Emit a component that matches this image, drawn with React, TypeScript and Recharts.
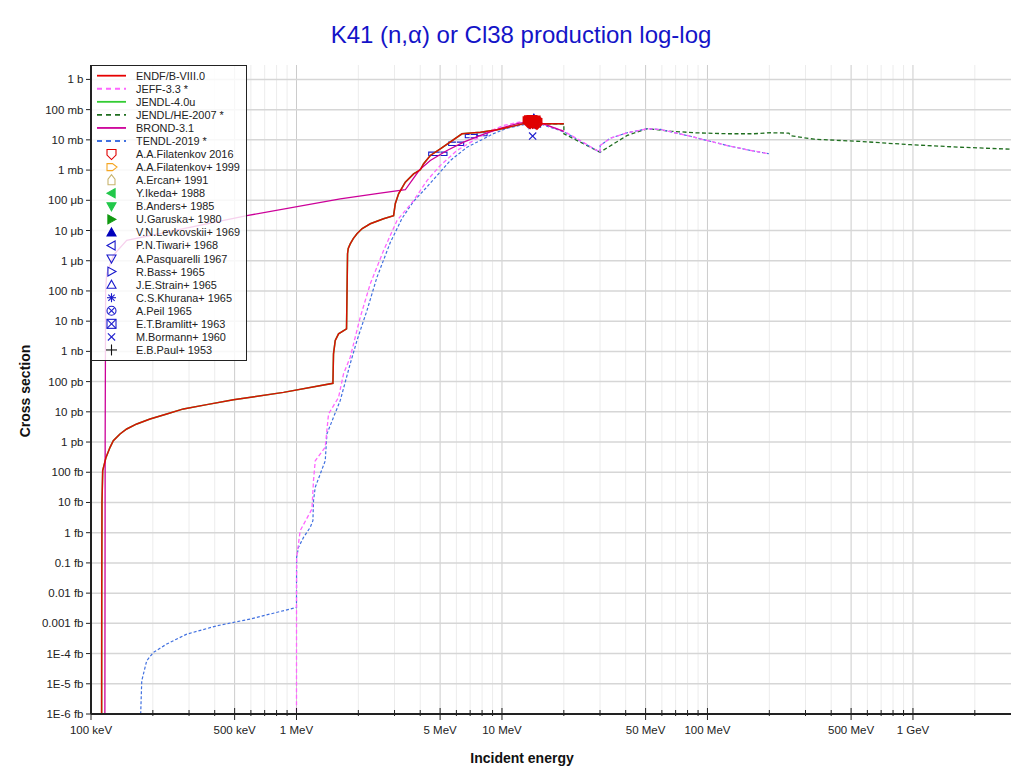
import React from "react";
import {
  ComposedChart,
  Line,
  Scatter,
  XAxis,
  YAxis,
  ReferenceLine,
  ReferenceArea,
} from "recharts";

// energies in MeV, cross sections in barns
const endfB80: [number, number][] = [
  [0.1126, 1e-22], [0.1128, 1e-17], [0.1131, 1e-14], [0.114, 1.13e-13], [0.1183, 3.1e-13],
  [0.1238, 6.7e-13], [0.1284, 1.1e-12], [0.1384, 1.85e-12], [0.1492, 2.7e-12], [0.167, 3.97e-12],
  [0.1938, 5.8e-12], [0.2337, 8.5e-12], [0.2817, 1.25e-11], [0.366, 1.73e-11], [0.4934, 2.5e-11],
  [0.8644, 4.4e-11], [1.504, 8.8e-11], [1.514, 8.3e-10], [1.544, 2.3e-9], [1.602, 3.8e-9],
  [1.752, 5.6e-9], [1.772, 1.7e-6], [1.786, 2.54e-6], [1.826, 3.6e-6], [1.889, 5.4e-6],
  [1.969, 7.8e-6], [2.089, 1.16e-5], [2.286, 1.67e-5], [2.653, 2.44e-5], [2.969, 3.1e-5],
  [3.025, 7.7e-5], [3.139, 1.64e-4], [3.385, 4.0e-4], [3.715, 7.5e-4], [4.005, 1.02e-3],
  [4.156, 1.62e-3], [4.48, 3.04e-3], [5.01, 5.07e-3], [6.39, 0.0159], [7.85, 0.018],
  [9.47, 0.0216], [11.5, 0.029], [13.3, 0.037], [14.2, 0.034], [20, 0.034],
];

const jendl40u: [number, number][] = endfB80.map(([e, s]) => [e, s]);

const jeff33: [number, number][] = [
  [1.0, 1e-22], [1.0005, 1e-17], [1.002, 1.5e-16], [1.042, 1.16e-15], [1.189, 6.1e-15],
  [1.21, 5.3e-14], [1.234, 2.4e-13], [1.38, 6.7e-13], [1.432, 8.5e-12], [1.602, 3.0e-11],
  [1.694, 1.8e-10], [1.826, 6.4e-10], [2.043, 1.35e-8], [2.286, 1.72e-7], [2.653, 2.18e-6],
  [3.084, 2.14e-5], [3.715, 9.8e-5], [4.316, 4.5e-4], [5.01, 1.42e-3], [6.04, 4.46e-3],
  [7.28, 9.55e-3], [8.5, 0.018], [10.19, 0.03], [12.76, 0.0416], [14.83, 0.0386],
  [20, 0.0195], [30, 0.0039], [30.05, 0.0065], [33.7, 0.0114], [40.7, 0.0172],
  [50.9, 0.0233], [59.2, 0.0221], [85.9, 0.0123], [99.4, 0.00955], [124.8, 0.0065],
  [156, 0.0047], [199, 0.00347],
];

const jendlHe2007: [number, number][] = [
  [13.3, 0.037], [14.2, 0.034], [20, 0.034], [20.02, 0.0159], [30, 0.0039], [40.7, 0.014],
  [50.9, 0.0233], [66, 0.0194], [86, 0.0172], [125, 0.0159], [168, 0.0159], [203, 0.0172],
  [249, 0.0167], [254, 0.0137], [330, 0.0105], [557, 0.00885], [975, 0.0069],
  [1710, 0.0057], [3000, 0.0049],
];

const brond31: [number, number][] = [
  [0.1168, 1e-22], [0.1172, 1e-12], [0.1178, 1e-7], [0.1192, 3.7e-7], [0.1284, 1.5e-6],
  [0.1492, 4.7e-6], [0.5733, 3.1e-5], [1.633, 1.12e-4], [2.557, 1.72e-4], [3.385, 2.23e-4],
  [3.972, 1.02e-3], [4.48, 2.08e-3], [5.4, 4.46e-3], [6.51, 8.4e-3], [7.85, 0.014],
  [10, 0.025], [12, 0.035], [14, 0.041], [15, 0.039], [20, 0.019],
];

const tendl2019: [number, number][] = [
  [0.1733, 1e-22], [0.1745, 1e-21], [0.1766, 1.26e-20], [0.1867, 5.8e-20], [0.2012, 1.09e-19],
  [0.2337, 2.07e-19], [0.2925, 4.4e-19], [0.4096, 8.3e-19], [0.5951, 1.39e-18], [1.0, 3.36e-18],
  [1.001, 1.5e-16], [1.023, 3.3e-16], [1.082, 7.0e-16], [1.166, 1.5e-15], [1.202, 2.5e-15],
  [1.21, 1.15e-14], [1.234, 3.2e-14], [1.38, 2.4e-13], [1.406, 1.85e-12], [1.514, 6.6e-12],
  [1.632, 2.35e-11], [1.826, 3.9e-10], [1.969, 2.28e-9], [2.202, 2.24e-8], [2.464, 2.84e-7],
  [2.86, 4e-6], [3.26, 2.5e-5], [3.7, 9e-5], [4.156, 2.1e-4], [4.83, 6.6e-4], [5.61, 2.08e-3],
  [6.76, 5.7e-3], [7.85, 9.55e-3], [9.0, 0.0155], [10.5, 0.024], [12.8, 0.032], [14.5, 0.035],
  [15.5, 0.033], [20, 0.0185], [30, 0.0039], [30.05, 0.0065], [33.7, 0.0114], [40.7, 0.0172],
  [50.9, 0.0233], [59.2, 0.0221], [85.9, 0.0123], [99.4, 0.00955], [124.8, 0.0065],
  [156, 0.0047], [199, 0.00347],
];

// EXFOR points
const filatenkov2016: [number, number][] = [
  [13.4, 0.04], [13.6, 0.043], [13.8, 0.041], [14.0, 0.044], [14.1, 0.038], [14.3, 0.04],
  [14.5, 0.042], [14.6, 0.037], [14.8, 0.035], [13.7, 0.037],
];
const filatenkov1999: [number, number][] = [[14.2, 0.039]];
const ercan1991: [number, number][] = [[14.6, 0.036]];
const ikeda1988: [number, number][] = [[14.0, 0.037]];
const anders1985: [number, number][] = [[14.5, 0.036]];
const garuska1980: [number, number][] = [[14.6, 0.038]];
const levkovskii1969: [number, number][] = [[14.3, 0.05]];
const tiwari1968: [number, number][] = [[14.8, 0.037]];
const pasquarelli1967: [number, number][] = [[14.7, 0.035]];
const bass1965: [number, number][] = [[14.1, 0.033]];
const strain1965: [number, number][] = [[14.8, 0.042]];
const khurana1965: [number, number][] = [[14.8, 0.039]];
const peil1965: [number, number][] = [[14.5, 0.034]];
const bramlitt1963: [number, number][] = [];
const bormann1960: [number, number][] = [[14.1, 0.0133]];
const paul1953: [number, number][] = [[14.1, 0.036]];

// Bramlitt boxes: [eLow, eHigh, sLow, sHigh]
const bramlittBoxes: [number, number, number, number][] = [
  [4.4, 5.4, 0.00304, 0.00392],
  [5.5, 6.51, 0.0065, 0.0084],
  [6.63, 7.56, 0.01174, 0.0151],
  [7.56, 8.46, 0.0137, 0.0172],
  [13.5, 15.2, 0.028, 0.033],
];

const xLabelValues = [0.1, 0.5, 1, 5, 10, 50, 100, 500, 1000];
const xLabels = ["100 keV", "500 keV", "1 MeV", "5 MeV", "10 MeV", "50 MeV", "100 MeV", "500 MeV", "1 GeV"];
const xMinorValues = [
  0.2, 0.3, 0.4, 0.6, 0.7, 0.8, 0.9, 2, 3, 4, 6, 7, 8, 9, 20, 30, 40, 60, 70, 80, 90,
  200, 300, 400, 600, 700, 800, 900, 2000,
];
const yTickValues = [
  1e-21, 1e-20, 1e-19, 1e-18, 1e-17, 1e-16, 1e-15, 1e-14, 1e-13, 1e-12, 1e-11,
  1e-10, 1e-9, 1e-8, 1e-7, 1e-6, 1e-5, 1e-4, 1e-3, 1e-2, 1e-1, 1,
];
const yLabels = [
  "1E-6 fb", "1E-5 fb", "1E-4 fb", "0.001 fb", "0.01 fb", "0.1 fb", "1 fb", "10 fb", "100 fb",
  "1 pb", "10 pb", "100 pb", "1 nb", "10 nb", "100 nb", "1 μb", "10 μb", "100 μb",
  "1 mb", "10 mb", "100 mb", "1 b",
];

const FONT = '"Liberation Sans", Arial, sans-serif';
const X_DOMAIN: [number, number] = [0.1, 3000];
const Y_DOMAIN: [number, number] = [1e-21, 3];
const allXTicks = [...xLabelValues, ...xMinorValues].sort((a, b) => a - b);

const toPts = (arr: [number, number][]) => arr.map(([x, y]) => ({ x, y }));
const sameLog = (a: number, b: number) => Math.abs(Math.log10(a) - Math.log10(b)) < 1e-6;

const lineSeries = [
  { name: "ENDF/B-VIII.0", color: "#e60000", dash: undefined, width: 1.5, opacity: 0.92, data: endfB80 },
  { name: "JEFF-3.3 *", color: "#ff66ff", dash: "4 2.5", width: 1.3, opacity: 1, data: jeff33 },
  { name: "JENDL-4.0u", color: "#33cc33", dash: undefined, width: 1.5, opacity: 1, data: jendl40u },
  { name: "JENDL/HE-2007 *", color: "#1f6e1f", dash: "4 2.5", width: 1.3, opacity: 1, data: jendlHe2007 },
  { name: "BROND-3.1", color: "#cc0099", dash: undefined, width: 1.3, opacity: 1, data: brond31 },
  { name: "TENDL-2019 *", color: "#4070e0", dash: "3 2", width: 1.2, opacity: 1, data: tendl2019 },
];
const lineDrawOrder = [2, 3, 5, 1, 4, 0];

const exforSets = [
  { name: "A.A.Filatenkov 2016", color: "#e00000", shape: "shield", filled: false, data: filatenkov2016 },
  { name: "A.A.Filatenkov+ 1999", color: "#f5a623", shape: "houseRight", filled: false, data: filatenkov1999 },
  { name: "A.Ercan+ 1991", color: "#c8b46e", shape: "houseUp", filled: false, data: ercan1991 },
  { name: "Y.Ikeda+ 1988", color: "#22c84a", shape: "triLeft", filled: true, data: ikeda1988 },
  { name: "B.Anders+ 1985", color: "#22c84a", shape: "triDown", filled: true, data: anders1985 },
  { name: "U.Garuska+ 1980", color: "#119911", shape: "triRight", filled: true, data: garuska1980 },
  { name: "V.N.Levkovskii+ 1969", color: "#0000bb", shape: "triUp", filled: true, data: levkovskii1969 },
  { name: "P.N.Tiwari+ 1968", color: "#1a1acc", shape: "triLeft", filled: false, data: tiwari1968 },
  { name: "A.Pasquarelli 1967", color: "#1a1acc", shape: "triDown", filled: false, data: pasquarelli1967 },
  { name: "R.Bass+ 1965", color: "#1a1acc", shape: "triRight", filled: false, data: bass1965 },
  { name: "J.E.Strain+ 1965", color: "#1a1acc", shape: "triUp", filled: false, data: strain1965 },
  { name: "C.S.Khurana+ 1965", color: "#1a1acc", shape: "asterisk", filled: false, data: khurana1965 },
  { name: "A.Peil 1965", color: "#1a1acc", shape: "circleX", filled: false, data: peil1965 },
  { name: "E.T.Bramlitt+ 1963", color: "#1a1acc", shape: "squareX", filled: false, data: bramlitt1963 },
  { name: "M.Bormann+ 1960", color: "#1a1acc", shape: "cross", filled: false, data: bormann1960 },
  { name: "E.B.Paul+ 1953", color: "#111111", shape: "plus", filled: false, data: paul1953 },
];

function Marker({ shape, cx, cy, color, filled, sw = 1.1 }: { shape: string; cx: number; cy: number; color: string; filled: boolean; sw?: number }) {
  const s = 4.5;
  const st = { stroke: color, strokeWidth: sw, fill: filled ? color : "none" };
  switch (shape) {
    case "shield":
      return <path d={`M${cx - s},${cy - s} H${cx + s} V${cy + 1} L${cx},${cy + s + 1} L${cx - s},${cy + 1} Z`} {...st} />;
    case "houseRight":
      return <path d={`M${cx - s},${cy - s + 1} H${cx + 1} L${cx + s + 1},${cy} L${cx + 1},${cy + s - 1} H${cx - s} Z`} {...st} />;
    case "houseUp":
      return <path d={`M${cx - s + 1},${cy + s} V${cy - 1} L${cx},${cy - s - 1} L${cx + s - 1},${cy - 1} V${cy + s} Z`} {...st} />;
    case "triUp":
      return <path d={`M${cx},${cy - s} L${cx + s},${cy + s * 0.8} L${cx - s},${cy + s * 0.8} Z`} {...st} />;
    case "triDown":
      return <path d={`M${cx},${cy + s} L${cx + s},${cy - s * 0.8} L${cx - s},${cy - s * 0.8} Z`} {...st} />;
    case "triLeft":
      return <path d={`M${cx - s},${cy} L${cx + s * 0.8},${cy - s} L${cx + s * 0.8},${cy + s} Z`} {...st} />;
    case "triRight":
      return <path d={`M${cx + s},${cy} L${cx - s * 0.8},${cy - s} L${cx - s * 0.8},${cy + s} Z`} {...st} />;
    case "asterisk":
      return (
        <g {...st}>
          <line x1={cx - s} x2={cx + s} y1={cy} y2={cy} />
          <line x1={cx} x2={cx} y1={cy - s} y2={cy + s} />
          <line x1={cx - s * 0.7} x2={cx + s * 0.7} y1={cy - s * 0.7} y2={cy + s * 0.7} />
          <line x1={cx - s * 0.7} x2={cx + s * 0.7} y1={cy + s * 0.7} y2={cy - s * 0.7} />
        </g>
      );
    case "circleX":
      return (
        <g {...st}>
          <circle cx={cx} cy={cy} r={s} />
          <line x1={cx - s * 0.7} x2={cx + s * 0.7} y1={cy - s * 0.7} y2={cy + s * 0.7} />
          <line x1={cx - s * 0.7} x2={cx + s * 0.7} y1={cy + s * 0.7} y2={cy - s * 0.7} />
        </g>
      );
    case "squareX":
      return (
        <g {...st}>
          <rect x={cx - s} y={cy - s} width={2 * s} height={2 * s} />
          <line x1={cx - s} x2={cx + s} y1={cy - s} y2={cy + s} />
          <line x1={cx - s} x2={cx + s} y1={cy + s} y2={cy - s} />
        </g>
      );
    case "cross":
      return (
        <g {...st}>
          <line x1={cx - s * 0.8} x2={cx + s * 0.8} y1={cy - s * 0.8} y2={cy + s * 0.8} />
          <line x1={cx - s * 0.8} x2={cx + s * 0.8} y1={cy + s * 0.8} y2={cy - s * 0.8} />
        </g>
      );
    default:
      return (
        <g {...st}>
          <line x1={cx - s - 1} x2={cx + s + 1} y1={cy} y2={cy} />
          <line x1={cx} x2={cx} y1={cy - s - 1} y2={cy + s + 1} />
        </g>
      );
  }
}

const XTick = (props: any) => {
  const { x, y, payload } = props;
  const idx = xLabelValues.findIndex((v) => sameLog(v, payload.value));
  const major = idx >= 0;
  return (
    <g>
      <line x1={x} x2={x} y1={y - (major ? 6 : 4)} y2={y + (major ? 6 : 2)} stroke="#222" strokeWidth={1} />
      {major && (
        <text x={x} y={y + 20} textAnchor="middle" fontSize={11.5} fill="#222" fontFamily={FONT}>
          {xLabels[idx]}
        </text>
      )}
    </g>
  );
};

const TopTick = (props: any) => {
  const { x, y, payload } = props;
  const major = xLabelValues.some((v) => sameLog(v, payload.value));
  return <line x1={x} x2={x} y1={y} y2={y + (major ? 5 : 3)} stroke="#222" strokeWidth={1} />;
};

const YTick = (props: any) => {
  const { x, y, payload } = props;
  const idx = yTickValues.findIndex((v) => sameLog(v, payload.value));
  return (
    <g>
      <line x1={x - 5} x2={x} y1={y} y2={y} stroke="#222" strokeWidth={1} />
      <text x={x - 7.5} y={y} dy={4} textAnchor="end" fontSize={11.5} fill="#222" fontFamily={FONT}>
        {idx >= 0 ? yLabels[idx] : ""}
      </text>
    </g>
  );
};

const RightTick = (props: any) => {
  const { x, y } = props;
  return <line x1={x - 5} x2={x} y1={y} y2={y} stroke="#222" strokeWidth={1} />;
};

function LegendBox() {
  const rowY = (i: number) => 10.7 + i * 13.06;
  return (
    <div
      style={{
        position: "absolute",
        left: 83,
        top: 57,
        width: 156,
        height: 296,
        boxSizing: "border-box",
        border: "1.5px solid #222",
        background: "rgba(255,255,255,0.82)",
      }}
    >
      <svg width={156} height={296} style={{ position: "absolute", left: -1.5, top: -1.5 }}>
        {lineSeries.map((s, i) => (
          <g key={s.name}>
            <line x1={6} x2={35} y1={rowY(i)} y2={rowY(i)} stroke={s.color} strokeWidth={1.8} strokeDasharray={s.dash ? "5 4" : undefined} />
            <text x={45} y={rowY(i) + 4} fontSize={10.9} fill="#222" fontFamily={FONT}>
              {s.name}
            </text>
          </g>
        ))}
        {exforSets.map((s, j) => {
          const i = lineSeries.length + j;
          return (
            <g key={s.name}>
              <Marker shape={s.shape} cx={20.5} cy={rowY(i)} color={s.color} filled={s.filled} />
              <text x={45} y={rowY(i) + 4} fontSize={10.9} fill="#222" fontFamily={FONT}>
                {s.name}
              </text>
            </g>
          );
        })}
      </svg>
    </div>
  );
}

export default function App() {
  return (
    <div style={{ position: "relative", width: 1012, height: 766, fontFamily: FONT }}>
      <div
        style={{
          position: "absolute",
          left: 0,
          width: 1026,
          top: 13,
          textAlign: "center",
          fontSize: 24,
          color: "#1414c8",
          lineHeight: "28px",
        }}
      >
        K41 (n,α) or Cl38 production log-log
      </div>
      <ComposedChart width={1012} height={766} margin={{ top: 57, right: 9, bottom: 30, left: 0 }}>
        <XAxis
          dataKey="x"
          type="number"
          scale="log"
          domain={X_DOMAIN}
          allowDataOverflow
          ticks={allXTicks}
          interval={0}
          tick={(p: any) => <XTick {...p} />}
          tickLine={false}
          tickSize={0}
          tickMargin={0}
          axisLine={{ stroke: "#222", strokeWidth: 2 }}
          height={30}
        />
        <XAxis
          xAxisId="top"
          orientation="top"
          dataKey="x"
          type="number"
          scale="log"
          domain={X_DOMAIN}
          allowDataOverflow
          ticks={allXTicks}
          interval={0}
          tick={(p: any) => <TopTick {...p} />}
          tickLine={false}
          tickSize={0}
          tickMargin={0}
          axisLine={{ stroke: "#222", strokeWidth: 2 }}
          height={0}
        />
        <YAxis
          dataKey="y"
          type="number"
          scale="log"
          domain={Y_DOMAIN}
          allowDataOverflow
          ticks={yTickValues}
          interval={0}
          tick={(p: any) => <YTick {...p} />}
          tickLine={false}
          tickSize={0}
          tickMargin={0}
          axisLine={{ stroke: "#222", strokeWidth: 2 }}
          width={83}
        />
        <YAxis
          yAxisId="right"
          orientation="right"
          dataKey="y"
          type="number"
          scale="log"
          domain={Y_DOMAIN}
          allowDataOverflow
          ticks={yTickValues}
          interval={0}
          tick={(p: any) => <RightTick {...p} />}
          tickLine={false}
          tickSize={0}
          tickMargin={0}
          axisLine={{ stroke: "#222", strokeWidth: 2 }}
          width={0}
        />
        {xMinorValues.map((v) => (
          <ReferenceLine key={`xm${v}`} x={v} stroke="#ececec" strokeWidth={1} />
        ))}
        {xLabelValues.map((v) => (
          <ReferenceLine key={`xM${v}`} x={v} stroke="#cccccc" strokeWidth={1} />
        ))}
        {yTickValues.map((v) => (
          <ReferenceLine key={`y${v}`} y={v} stroke="#d6d6d6" strokeWidth={1.5} />
        ))}
        {lineDrawOrder.map((i) => {
          const s = lineSeries[i];
          return (
            <Line
              key={s.name}
              data={toPts(s.data)}
              dataKey="y"
              type="linear"
              dot={false}
              activeDot={false}
              stroke={s.color}
              strokeOpacity={s.opacity}
              strokeWidth={s.width}
              strokeDasharray={s.dash}
              isAnimationActive={false}
            />
          );
        })}
        {bramlittBoxes.map(([x1, x2, y1, y2]) => (
          <ReferenceArea key={`b${x1}`} x1={x1} x2={x2} y1={y1} y2={y2} fill="none" fillOpacity={0} stroke="#1a1acc" strokeWidth={1.1} />
        ))}
        {[...exforSets].reverse().map((s, k) => (
          <Scatter
            key={s.name}
            data={toPts(s.data)}
            dataKey="y"
            isAnimationActive={false}
            shape={(p: any) => (
              <Marker shape={s.shape} cx={p.cx} cy={p.cy} color={s.color} filled={s.filled} sw={k === exforSets.length - 1 ? 2 : 1.1} />
            )}
          />
        ))}
      </ComposedChart>
      <LegendBox />
      <div
        style={{
          position: "absolute",
          left: 17,
          top: 383,
          transform: "translate(-50%, -50%) rotate(-90deg)",
          fontSize: 14,
          fontWeight: "bold",
          color: "#111",
          whiteSpace: "nowrap",
        }}
      >
        Cross section
      </div>
      <div
        style={{
          position: "absolute",
          left: 0,
          width: 1028,
          top: 742,
          textAlign: "center",
          fontSize: 14,
          fontWeight: "bold",
          color: "#111",
        }}
      >
        Incident energy
      </div>
    </div>
  );
}
